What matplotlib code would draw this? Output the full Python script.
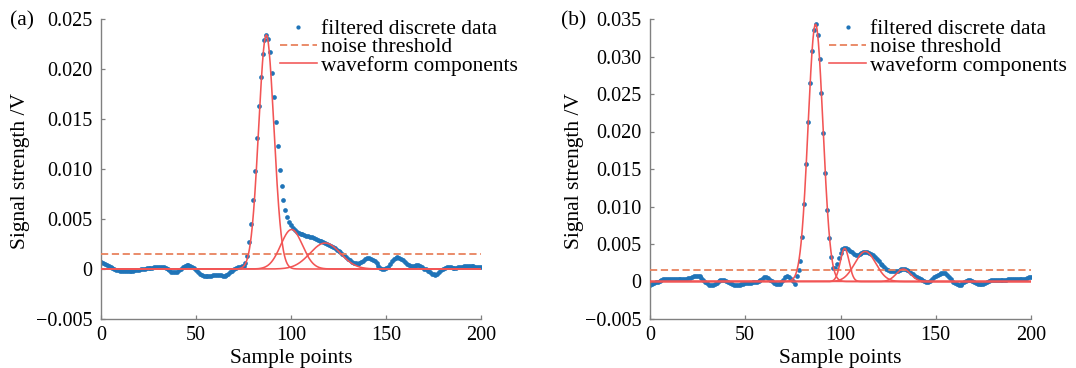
import numpy as np
import matplotlib
matplotlib.use("Agg")
import matplotlib.pyplot as plt

plt.rcParams['font.family'] = ['Liberation Serif', 'DejaVu Serif']

# ---------------- data (signal values in mV, sample points 0..200) ----------------
sample_points = list(range(201))

signal_a_mV = [
    0.67, 0.60, 0.50, 0.40, 0.30, 0.20, 0.10, 0.00, -0.08, -0.13,
    -0.17, -0.20, -0.22, -0.23, -0.23, -0.23, -0.20, -0.17, -0.13, -0.10,
    -0.07, -0.03, 0.00, 0.05, 0.08, 0.10, 0.13, 0.15, 0.18, 0.20,
    0.22, 0.25, 0.25, 0.22, 0.12, 0.00, -0.12, -0.25, -0.32, -0.33,
    -0.25, -0.10, 0.05, 0.20, 0.32, 0.38, 0.40, 0.35, 0.25, 0.10,
    -0.10, -0.30, -0.48, -0.60, -0.68, -0.72, -0.73, -0.72, -0.68, -0.64,
    -0.60, -0.60, -0.60, -0.63, -0.66, -0.67, -0.60, -0.48, -0.32, -0.15,
    0.00, 0.15, 0.22, 0.25, 0.27, 0.35, 0.60, 1.30, 2.70, 4.50,
    6.90, 9.80, 13.10, 16.30, 19.20, 21.50, 22.90, 23.40, 23.00, 21.70,
    19.60, 17.20, 14.70, 12.30, 9.90, 8.30, 6.90, 5.90, 5.20, 4.70,
    4.40, 4.10, 3.90, 3.75, 3.65, 3.55, 3.50, 3.40, 3.35, 3.30,
    3.25, 3.20, 3.10, 3.00, 2.95, 2.85, 2.80, 2.70, 2.60, 2.50,
    2.45, 2.35, 2.25, 2.10, 1.95, 1.85, 1.70, 1.55, 1.40, 1.20,
    1.05, 0.90, 0.75, 0.65, 0.60, 0.55, 0.60, 0.70, 0.85, 1.00,
    1.10, 1.10, 1.05, 0.95, 0.80, 0.60, 0.35, 0.15, 0.00, 0.00,
    0.10, 0.25, 0.50, 0.80, 1.00, 1.15, 1.20, 1.15, 1.05, 0.90,
    0.75, 0.55, 0.40, 0.30, 0.30, 0.35, 0.40, 0.40, 0.35, 0.20,
    0.05, 0.00, -0.15, -0.30, -0.45, -0.50, -0.55, -0.45, -0.30, -0.10,
    0.05, 0.15, 0.20, 0.20, 0.20, 0.15, 0.15, 0.15, 0.20, 0.20,
    0.25, 0.30, 0.35, 0.35, 0.35, 0.30, 0.30, 0.25, 0.25, 0.20,
    0.20,
]

signal_b_mV = [
    -0.45, -0.35, -0.25, -0.10, 0.00, 0.10, 0.20, 0.27, 0.30, 0.32,
    0.35, 0.37, 0.40, 0.40, 0.38, 0.35, 0.33, 0.33, 0.35, 0.38,
    0.42, 0.50, 0.60, 0.70, 0.78, 0.80, 0.70, 0.50, 0.25, 0.00,
    -0.25, -0.45, -0.52, -0.50, -0.35, -0.15, 0.05, 0.15, 0.20, 0.18,
    0.10, -0.05, -0.20, -0.35, -0.45, -0.50, -0.48, -0.42, -0.35, -0.30,
    -0.25, -0.20, -0.18, -0.15, -0.12, -0.10, -0.05, 0.05, 0.20, 0.40,
    0.55, 0.55, 0.45, 0.25, 0.05, -0.15, -0.30, -0.38, -0.30, -0.10,
    0.20, 0.55, 0.75, 0.60, 0.30, 0.05, -0.30, 0.70, 1.60, 2.70,
    5.90, 10.30, 15.70, 21.30, 26.50, 30.70, 33.50, 34.30, 32.90, 29.70,
    25.10, 19.80, 14.50, 9.60, 5.80, 3.30, 1.80, 1.80, 2.40, 3.10,
    3.80, 4.30, 4.50, 4.50, 4.30, 4.10, 3.90, 3.70, 3.60, 3.60,
    3.70, 3.85, 3.95, 4.00, 3.95, 3.85, 3.70, 3.50, 3.30, 3.00,
    2.70, 2.40, 2.15, 1.90, 1.70, 1.55, 1.45, 1.40, 1.40, 1.40,
    1.45, 1.55, 1.65, 1.70, 1.65, 1.55, 1.40, 1.20, 1.00, 0.80,
    0.60, 0.45, 0.30, 0.15, 0.05, 0.00, 0.00, 0.10, 0.30, 0.55,
    0.75, 0.90, 1.05, 1.15, 1.20, 1.10, 0.85, 0.60, 0.30, 0.00,
    -0.20, -0.35, -0.45, -0.40, -0.25, -0.05, 0.10, 0.20, 0.20, 0.10,
    -0.05, -0.20, -0.30, -0.35, -0.35, -0.30, -0.20, -0.05, 0.05, 0.15,
    0.20, 0.25, 0.25, 0.25, 0.20, 0.20, 0.20, 0.25, 0.30, 0.35,
    0.40, 0.40, 0.40, 0.35, 0.30, 0.30, 0.35, 0.40, 0.50, 0.55,
    0.60,
]

# fitted Gaussian waveform components: amplitude (mV), centre (sample), sigma (samples)
comp_a_amp = [23.4, 3.95, 2.6]
comp_a_ctr = [87.0, 100.3, 118.0]
comp_a_sig = [4.0, 5.7, 8.0]

comp_b_amp = [34.3, 4.4, 4.0, 1.65]
comp_b_ctr = [86.9, 102.2, 113.0, 133.0]
comp_b_sig = [3.9, 2.3, 5.5, 3.8]

threshold_a_V = 0.0015
threshold_b_V = 0.0015

xticks = [0, 50, 100, 150, 200]
yticks_a = [-0.005, 0, 0.005, 0.010, 0.015, 0.020, 0.025]
yticklabels_a = ['\u22120.005', '0', '0.005', '0.010', '0.015', '0.020', '0.025']
yticks_b = [-0.005, 0, 0.005, 0.010, 0.015, 0.020, 0.025, 0.030, 0.035]
yticklabels_b = ['\u22120.005', '0', '0.005', '0.010', '0.015', '0.020', '0.025', '0.030', '0.035']

legend_labels = ['filtered discrete data', 'noise threshold', 'waveform components']
panel_tags = ['(a)', '(b)']
xlabel = 'Sample points'
ylabel = 'Signal strength /V'

# ---------------- style ----------------
BLUE = '#1f74b8'
RED = '#f25555'
ORANGE = '#e8825e'
SPINE = '#808080'
W, H = 1076, 368

fig = plt.figure(figsize=(W / 100, H / 100), dpi=100)

def px_axes(l, r, t, b):
    return fig.add_axes([l / W, 1 - b / H, (r - l) / W, (b - t) / H])

ax_a = px_axes(101, 481, 19, 319)
ax_b = px_axes(650, 1031, 19, 319)

def draw(ax, signal_mV, amps, ctrs, sigs, thr, yticks, ylabels, ylim):
    x = np.array(sample_points, dtype=float)
    y = np.array(signal_mV) / 1000.0
    ax.plot(x, y, linestyle='none', marker='o', ms=3.4, mew=0,
            color=BLUE, label=legend_labels[0], zorder=2)
    ax.plot([0, 200], [thr, thr], linestyle=(0, (4, 2)), lw=1.3,
            color=ORANGE, label=legend_labels[1], zorder=3)
    xf = np.linspace(0, 200, 2001)
    for i, (A, c, s) in enumerate(zip(amps, ctrs, sigs)):
        g = (A / 1000.0) * np.exp(-(xf - c) ** 2 / (2 * s ** 2))
        ax.plot(xf, g, color=RED, lw=1.15,
                label=legend_labels[2] if i == 0 else None, zorder=4)
    ax.set_xlim(0, 200)
    ax.set_ylim(*ylim)
    ax.set_xticks(xticks)
    ax.set_xticklabels([str(t) for t in xticks])
    ax.set_yticks(yticks)
    ax.set_yticklabels(ylabels)
    for side in ('top', 'right'):
        ax.spines[side].set_visible(False)
    for side in ('left', 'bottom'):
        ax.spines[side].set_color(SPINE)
        ax.spines[side].set_linewidth(1.0)
    ax.tick_params(direction='in', length=3, width=0.9, color=SPINE,
                   labelsize=14.5, labelcolor='black')
    ax.tick_params(axis='x', pad=5)
    ax.tick_params(axis='y', pad=6)
    leg = ax.legend(loc='upper left', bbox_to_anchor=(0.471, 1.0),
                    frameon=False, fontsize=15.5, handlelength=1.7,
                    handletextpad=0.2, labelspacing=-0.08, borderpad=0,
                    borderaxespad=0, numpoints=1, markerscale=0.9)
    for t in leg.get_texts():
        t.set_color('black')

draw(ax_a, signal_a_mV, comp_a_amp, comp_a_ctr, comp_a_sig, threshold_a_V,
     yticks_a, yticklabels_a, (-0.005, 0.025))
draw(ax_b, signal_b_mV, comp_b_amp, comp_b_ctr, comp_b_sig, threshold_b_V,
     yticks_b, yticklabels_b, (-0.005, 0.035))

# labels placed in pixel coordinates
fig.text(10 / W, 1 - 21 / H, panel_tags[0], fontsize=15.5, ha='left', va='center')
fig.text(561 / W, 1 - 21 / H, panel_tags[1], fontsize=15.5, ha='left', va='center')
fig.text(21 / W, 1 - 171 / H, ylabel, fontsize=15.5, rotation=90, ha='center', va='center')
fig.text(574 / W, 1 - 171 / H, ylabel, fontsize=15.5, rotation=90, ha='center', va='center')
fig.text(291 / W, 1 - 363 / H, xlabel, fontsize=15.5, ha='center', va='baseline')
fig.text(840 / W, 1 - 363 / H, xlabel, fontsize=15.5, ha='center', va='baseline')

fig.savefig('out.png', dpi=100)
